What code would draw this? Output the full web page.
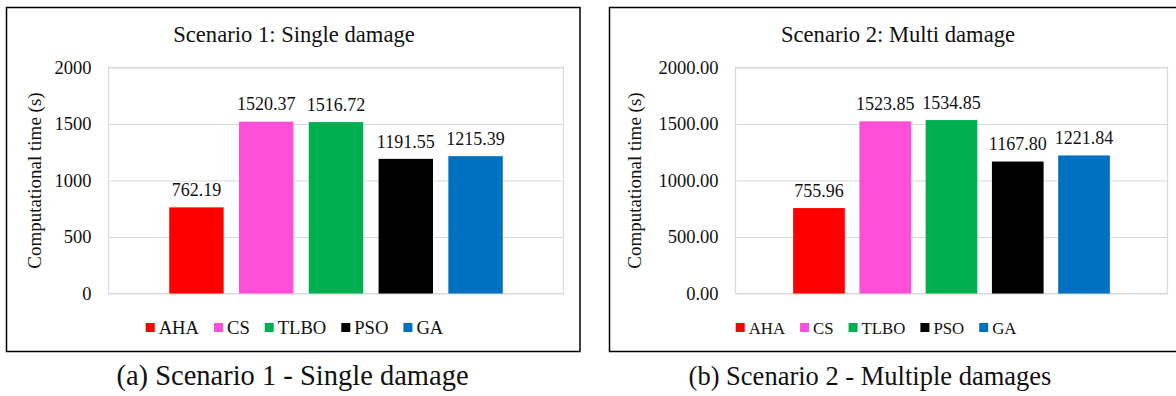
<!DOCTYPE html>
<html>
<head>
<meta charset="utf-8">
<script src="https://cdn.jsdelivr.net/npm/d3@7"></script>
<style>
  body { margin: 0; background: #fff; }
  svg { display: block; font-family: "Liberation Serif", "Times New Roman", serif; }
</style>
</head>
<body>
<div class="d3Chart"></div>
<script>
// data
var algorithms = ["AHA", "CS", "TLBO", "PSO", "GA"];
var algoColors = ["#ff0000", "#ff4fd9", "#00b050", "#000000", "#0070c0"];
var scenario1Times = [762.19, 1520.37, 1516.72, 1191.55, 1215.39];
var scenario2Times = [755.96, 1523.85, 1534.85, 1167.8, 1221.84];
var yTicks = [0, 500, 1000, 1500, 2000];
var panelTitles = ["Scenario 1: Single damage", "Scenario 2: Multi damage"];
var captions = ["(a) Scenario 1 - Single damage", "(b) Scenario 2 - Multiple damages"];
var yLabel = "Computational time (s)";

var width = 1176;
var height = 396;

var svg = d3
  .select(".d3Chart")
  .append("svg")
  .attr("width", width)
  .attr("height", height);

// layout of the two panels
var panels = [
  {
    values: scenario1Times,
    title: panelTitles[0],
    caption: captions[0],
    box: { x0: 6.5, x1: 580, y0: 7.5, y1: 351.5 },
    plot: { x0: 108.5, x1: 563.5, y0: 67.5, y1: 293.5 },
    titleX: 294,
    yLabelX: 34,
    legendX: 145.7,
    legendFont: 18.6,
    captionX: 292.5,
    captionFont: 28.5,
    tickFmt: d3.format("d"),
  },
  {
    values: scenario2Times,
    title: panelTitles[1],
    caption: captions[1],
    box: { x0: 609.5, x1: 1188, y0: 7.5, y1: 351.5 },
    plot: { x0: 735.5, x1: 1167.5, y0: 67.5, y1: 293.5 },
    titleX: 898,
    yLabelX: 634.5,
    legendX: 735.7,
    legendFont: 16.8,
    captionX: 870,
    captionFont: 26.5,
    tickFmt: d3.format(".2f"),
  },
];

panels.forEach(function (p) {
  var g = svg.append("g");

  // panel frame
  g.append("rect")
    .attr("x", p.box.x0)
    .attr("y", p.box.y0)
    .attr("width", p.box.x1 - p.box.x0)
    .attr("height", p.box.y1 - p.box.y0)
    .attr("fill", "#fff")
    .attr("stroke", "#000")
    .attr("stroke-width", 1.5);

  // title
  g.append("text")
    .attr("x", p.titleX)
    .attr("y", 41.5)
    .attr("text-anchor", "middle")
    .attr("font-size", 22.6)
    .attr("fill", "#111")
    .text(p.title);

  // scales
  var x = d3
    .scaleBand()
    .domain(algorithms)
    .range([p.plot.x0, p.plot.x1])
    .paddingInner(0.22)
    .paddingOuter(0.87);

  var y = d3
    .scaleLinear()
    .domain([0, 2000])
    .range([p.plot.y1, p.plot.y0]);

  // plot area border
  g.append("rect")
    .attr("x", p.plot.x0)
    .attr("y", p.plot.y0)
    .attr("width", p.plot.x1 - p.plot.x0)
    .attr("height", p.plot.y1 - p.plot.y0)
    .attr("fill", "none")
    .attr("stroke", "#d9d9d9")
    .attr("stroke-width", 1.2);

  // y axis with gridlines
  var yAxis = d3
    .axisLeft(y)
    .tickValues(yTicks)
    .tickSize(-(p.plot.x1 - p.plot.x0))
    .tickPadding(17)
    .tickFormat(p.tickFmt);

  var ax = g
    .append("g")
    .attr("transform", "translate(" + p.plot.x0 + ",0)")
    .call(yAxis);
  ax.select(".domain").remove();
  ax.selectAll(".tick line").attr("stroke", "#d9d9d9").attr("stroke-width", 1.2);
  ax.selectAll(".tick text")
    .attr("font-family", "Liberation Serif")
    .attr("font-size", 18.5)
    .attr("fill", "#111");

  // y label
  g.append("text")
    .attr("transform", "translate(" + p.yLabelX + "," + (p.plot.y0 + p.plot.y1) / 2 + ") rotate(-90)")
    .attr("text-anchor", "middle")
    .attr("dy", "0.35em")
    .attr("font-size", 19)
    .attr("fill", "#111")
    .text(yLabel);

  // bars
  g.selectAll(".bar")
    .data(p.values)
    .enter()
    .append("rect")
    .attr("class", "bar")
    .attr("x", function (d, i) { return x(algorithms[i]); })
    .attr("y", function (d) { return y(d); })
    .attr("width", x.bandwidth())
    .attr("height", function (d) { return y(0) - y(d); })
    .attr("fill", function (d, i) { return algoColors[i]; });

  // value labels
  g.selectAll(".val")
    .data(p.values)
    .enter()
    .append("text")
    .attr("class", "val")
    .attr("x", function (d, i) { return x(algorithms[i]) + x.bandwidth() / 2; })
    .attr("y", function (d) { return y(d) - 11.3; })
    .attr("text-anchor", "middle")
    .attr("font-size", 18)
    .attr("fill", "#111")
    .text(function (d) { return d3.format(".2f")(d); });

  // legend
  var lx = p.legendX;
  algorithms.forEach(function (name, i) {
    g.append("rect")
      .attr("x", lx)
      .attr("y", 323)
      .attr("width", 9)
      .attr("height", 9)
      .attr("fill", algoColors[i]);
    var t = g
      .append("text")
      .attr("x", lx + 13)
      .attr("y", 333.5)
      .attr("font-size", p.legendFont)
      .attr("fill", "#111")
      .text(name);
    lx += 13 + t.node().getComputedTextLength() + 15;
  });

  // caption under the panel
  svg.append("text")
    .attr("x", p.captionX)
    .attr("y", 385)
    .attr("text-anchor", "middle")
    .attr("font-size", p.captionFont)
    .attr("fill", "#111")
    .text(p.caption);
});
</script>
</body>
</html>
